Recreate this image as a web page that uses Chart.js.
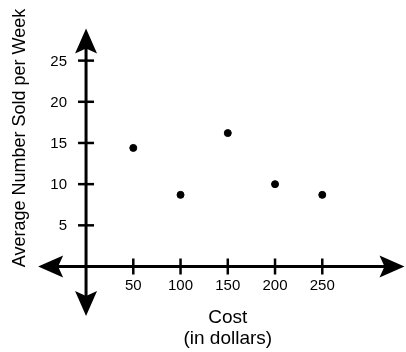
<!DOCTYPE html>
<html>
<head>
<meta charset="utf-8">
<script src="https://cdn.jsdelivr.net/npm/chart.js@4"></script>
<style>
  html, body { margin: 0; padding: 0; background: #fff; }
  #wrap { width: 406px; height: 352px; }
</style>
</head>
<body>
<div id="wrap"><canvas id="chart" width="406" height="352"></canvas></div>
<script>
// data
const costs = [50, 100, 150, 200, 250];
const sold = [14.4, 8.7, 16.2, 10, 8.7];
const xTicks = [50, 100, 150, 200, 250];
const yTicks = [5, 10, 15, 20, 25];
const xTitle = "Cost";
const xTitle2 = "(in dollars)";
const yTitle = "Average Number Sold per Week";

// where the arrow tips end, in data units
const xEnds = [-50.7, 337];
const yEnds = [-6, 28.9];

const points = costs.map((c, i) => ({ x: c, y: sold[i] }));

function arrow(ctx, tx, ty, dx, dy) {
  // barbed arrow head, tip at (tx,ty), pointing along (dx,dy)
  const len = 25, half = 11, notch = 5;
  const px = -dy, py = dx;
  ctx.beginPath();
  ctx.moveTo(tx, ty);
  ctx.lineTo(tx - dx * len + px * half, ty - dy * len + py * half);
  ctx.lineTo(tx - dx * (len - notch), ty - dy * (len - notch));
  ctx.lineTo(tx - dx * len - px * half, ty - dy * len - py * half);
  ctx.closePath();
  ctx.fill();
}

const axesPlugin = {
  id: "axesPlugin",
  beforeDatasetsDraw(chart) {
    const ctx = chart.ctx;
    const xs = chart.scales.x, ys = chart.scales.y;
    const x0 = xs.getPixelForValue(0), y0 = ys.getPixelForValue(0);
    const left = xs.getPixelForValue(xEnds[0]), right = xs.getPixelForValue(xEnds[1]);
    const bottom = ys.getPixelForValue(yEnds[0]), top = ys.getPixelForValue(yEnds[1]);
    ctx.save();
    ctx.strokeStyle = "#000";
    ctx.fillStyle = "#000";
    ctx.lineWidth = 3;
    ctx.beginPath();
    ctx.moveTo(left + 10, y0);
    ctx.lineTo(right - 10, y0);
    ctx.moveTo(x0, bottom - 10);
    ctx.lineTo(x0, top + 10);
    ctx.stroke();
    arrow(ctx, left, y0, -1, 0);
    arrow(ctx, right, y0, 1, 0);
    arrow(ctx, x0, top, 0, -1);
    arrow(ctx, x0, bottom, 0, 1);

    ctx.lineWidth = 2.5;
    ctx.font = "15px 'Liberation Sans', Arial, sans-serif";
    ctx.textAlign = "center";
    ctx.textBaseline = "top";
    xTicks.forEach((t) => {
      const px = xs.getPixelForValue(t);
      ctx.beginPath();
      ctx.moveTo(px, y0 - 8);
      ctx.lineTo(px, y0 + 8);
      ctx.stroke();
      ctx.fillText(String(t), px, y0 + 12);
    });
    ctx.textAlign = "right";
    ctx.textBaseline = "middle";
    yTicks.forEach((t) => {
      const py = ys.getPixelForValue(t);
      ctx.beginPath();
      ctx.moveTo(x0 - 8, py);
      ctx.lineTo(x0 + 8, py);
      ctx.stroke();
      ctx.fillText(String(t), x0 - 19, py + 1);
    });

    ctx.font = "19px 'Liberation Sans', Arial, sans-serif";
    ctx.textAlign = "center";
    ctx.textBaseline = "alphabetic";
    const cx = xs.getPixelForValue(150);
    ctx.fillText(xTitle, cx, 323);
    ctx.fillText(xTitle2, cx, 344);
    ctx.font = "18px 'Liberation Sans', Arial, sans-serif";
    ctx.translate(25, 138);
    ctx.rotate(-Math.PI / 2);
    ctx.fillText(yTitle, 0, 0);
    ctx.restore();
  }
};

new Chart(document.getElementById("chart"), {
  type: "scatter",
  data: {
    datasets: [{
      data: points,
      backgroundColor: "#000",
      borderColor: "#000",
      pointRadius: 3.5,
      pointHoverRadius: 3.5
    }]
  },
  options: {
    responsive: false,
    animation: false,
    events: [],
    layout: { padding: 0, autoPadding: false },
    plugins: { legend: { display: false }, tooltip: { enabled: false } },
    scales: {
      x: { type: "linear", display: false, min: -91.06, max: 338.6 },
      y: { type: "linear", display: false, min: -10.38, max: 32.36 }
    }
  },
  plugins: [axesPlugin]
});
</script>
</body>
</html>
